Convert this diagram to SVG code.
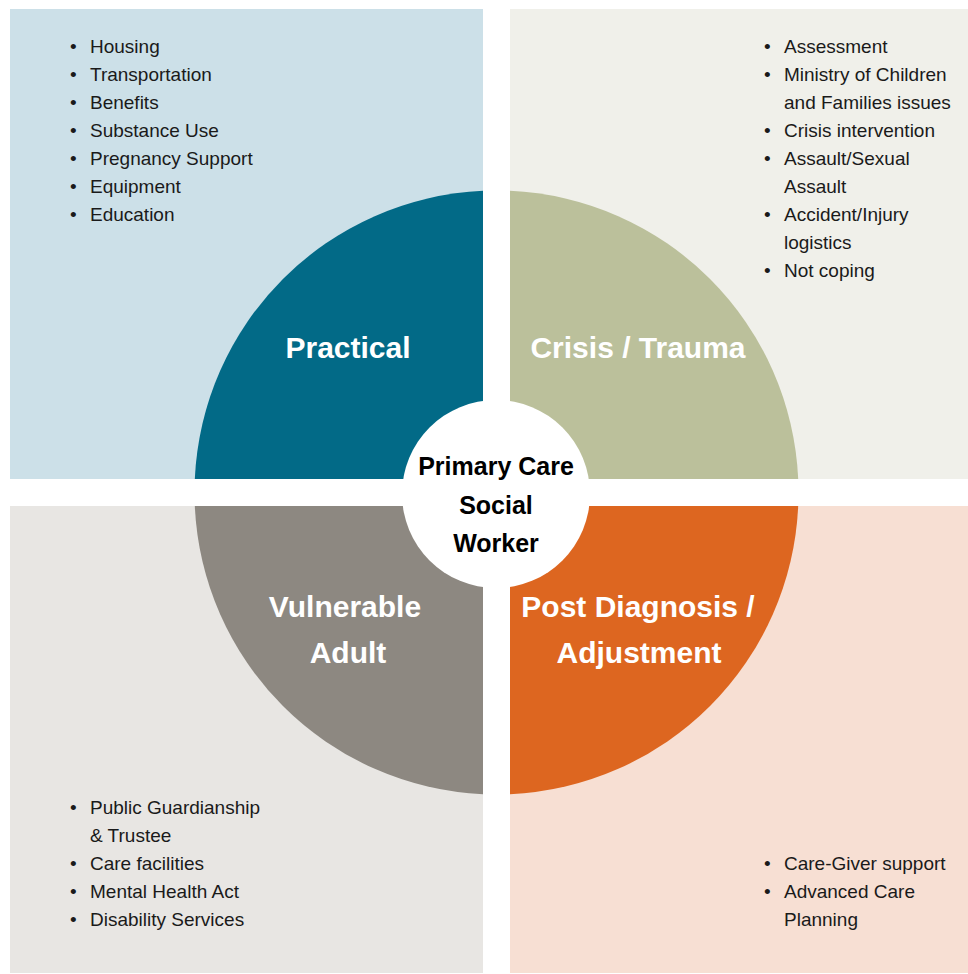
<svg xmlns="http://www.w3.org/2000/svg" width="968" height="974" viewBox="0 0 968 974">
<style>
.list{font-family:"Liberation Sans","Open Sans",sans-serif;font-size:19px;fill:#1a1a1a}
.title{font-family:"Liberation Sans","Open Sans",sans-serif;font-size:30px;font-weight:bold;fill:#ffffff;text-anchor:middle}
.center{font-family:"Liberation Sans","Open Sans",sans-serif;font-size:25px;font-weight:bold;fill:#000000;text-anchor:middle}
</style>
<rect width="968" height="974" fill="#ffffff"/>
<g id="panel-practical">
<rect x="10" y="9" width="473" height="470" fill="#cce0e8"/>
<path d="M483 479 L194.8 479 A302 302 0 0 1 483 190.8 Z" fill="#026a87"/>
<text class="title" x="348" y="358">Practical</text>
<g class="list">
<text x="70" y="53">•</text><text x="90" y="53">Housing</text>
<text x="70" y="81">•</text><text x="90" y="81">Transportation</text>
<text x="70" y="109">•</text><text x="90" y="109">Benefits</text>
<text x="70" y="137">•</text><text x="90" y="137">Substance Use</text>
<text x="70" y="165">•</text><text x="90" y="165">Pregnancy Support</text>
<text x="70" y="193">•</text><text x="90" y="193">Equipment</text>
<text x="70" y="221">•</text><text x="90" y="221">Education</text>
</g>
</g>
<g id="panel-crisis">
<rect x="510" y="9" width="458" height="470" fill="#f0f0ea"/>
<path d="M510 479 L510 190.8 A302 302 0 0 1 798.2 479 Z" fill="#bbc09b"/>
<text class="title" x="638" y="358">Crisis / Trauma</text>
<g class="list">
<text x="764" y="53">•</text><text x="784" y="53">Assessment</text>
<text x="764" y="81">•</text><text x="784" y="81">Ministry of Children</text>
<text x="784" y="109">and Families issues</text>
<text x="764" y="137">•</text><text x="784" y="137">Crisis intervention</text>
<text x="764" y="165">•</text><text x="784" y="165">Assault/Sexual</text>
<text x="784" y="193">Assault</text>
<text x="764" y="221">•</text><text x="784" y="221">Accident/Injury</text>
<text x="784" y="249">logistics</text>
<text x="764" y="277">•</text><text x="784" y="277">Not coping</text>
</g>
</g>
<g id="panel-vulnerable">
<rect x="10" y="506" width="473" height="467" fill="#e8e6e3"/>
<path d="M483 506 L483 794.2 A302 302 0 0 1 194.8 506 Z" fill="#8d8881"/>
<text class="title" x="345" y="617">Vulnerable</text>
<text class="title" x="348" y="663">Adult</text>
<g class="list">
<text x="70" y="814">•</text><text x="90" y="814">Public Guardianship</text>
<text x="90" y="842">&amp; Trustee</text>
<text x="70" y="870">•</text><text x="90" y="870">Care facilities</text>
<text x="70" y="898">•</text><text x="90" y="898">Mental Health Act</text>
<text x="70" y="926">•</text><text x="90" y="926">Disability Services</text>
</g>
</g>
<g id="panel-post-diagnosis">
<rect x="510" y="506" width="458" height="467" fill="#f7dfd3"/>
<path d="M510 506 L798.2 506 A302 302 0 0 1 510 794.2 Z" fill="#dd6620"/>
<text class="title" x="638" y="617">Post Diagnosis /</text>
<text class="title" x="639" y="663">Adjustment</text>
<g class="list">
<text x="764" y="870">•</text><text x="784" y="870">Care-Giver support</text>
<text x="764" y="898">•</text><text x="784" y="898">Advanced Care</text>
<text x="784" y="926">Planning</text>
</g>
</g>
<g id="hub">
<circle cx="496" cy="494" r="94" fill="#ffffff"/>
<text class="center" x="496" y="475">Primary Care</text>
<text class="center" x="496" y="514">Social</text>
<text class="center" x="496" y="552">Worker</text>
</g>
<g id="connectors"/>
</svg>
